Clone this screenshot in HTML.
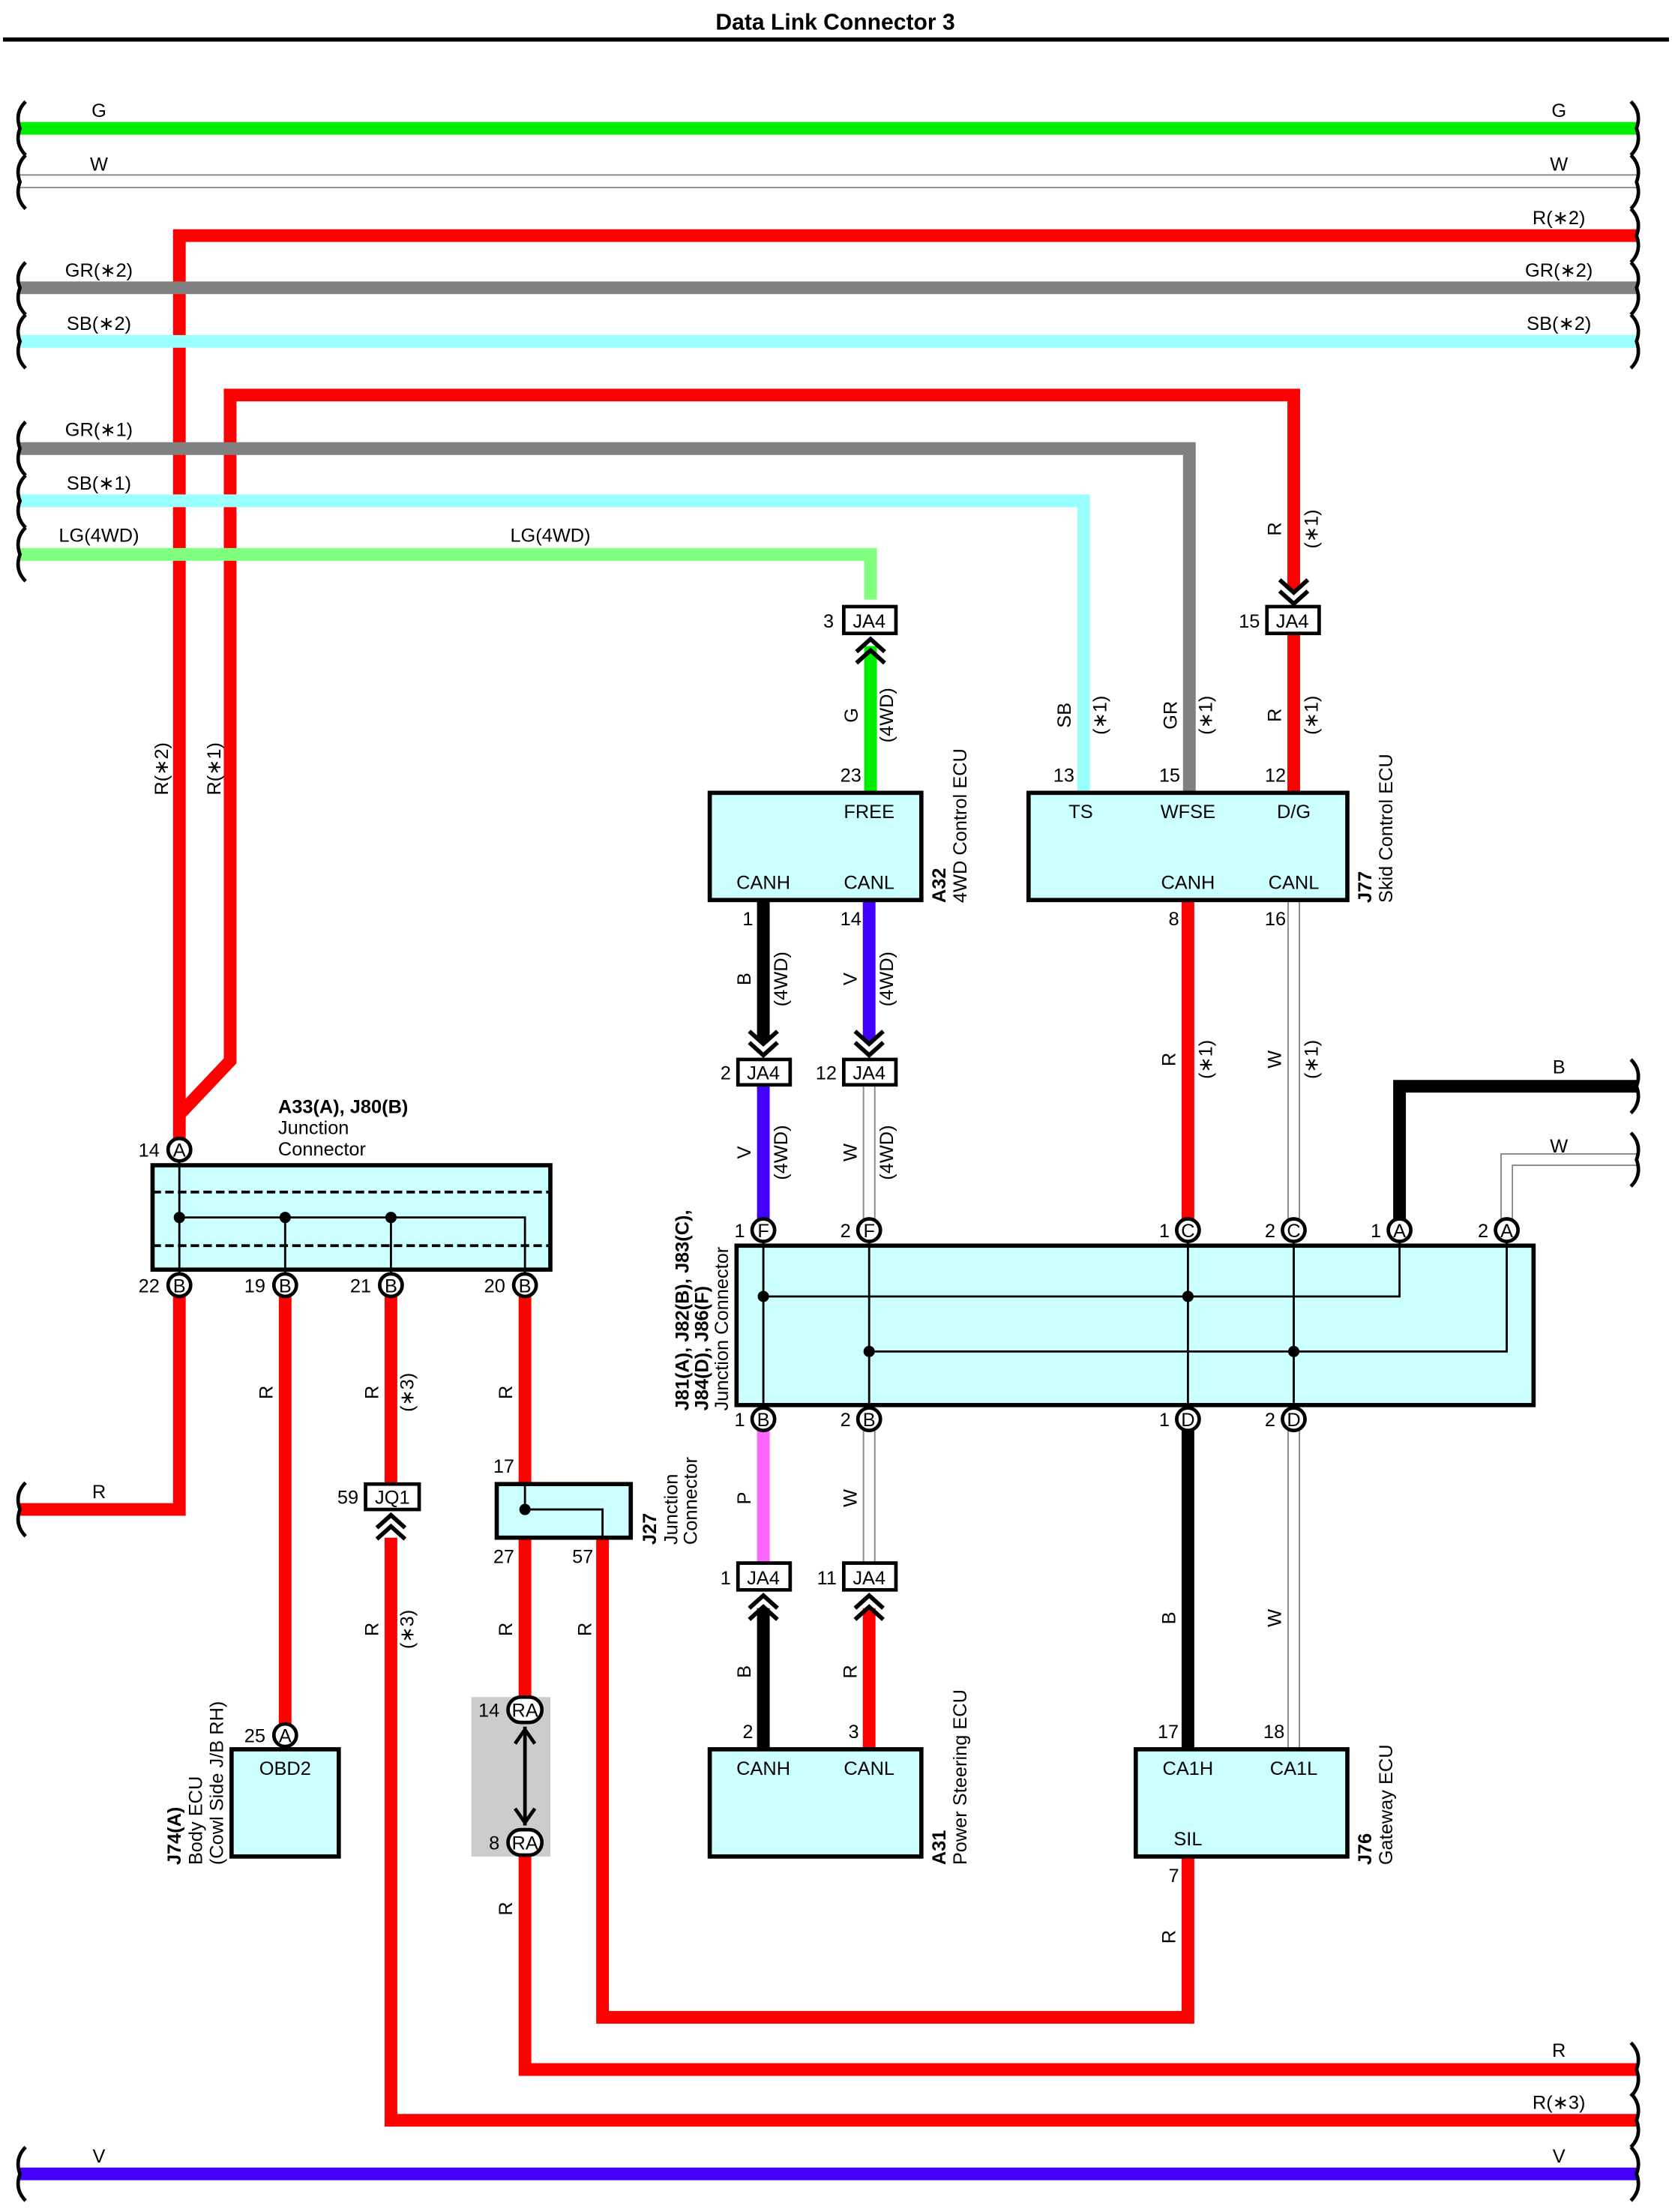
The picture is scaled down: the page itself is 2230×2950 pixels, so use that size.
<!DOCTYPE html>
<html><head><meta charset="utf-8"><style>
html,body{margin:0;padding:0;background:#fff}
svg{display:block}
text{font-family:"Liberation Sans",Arial,sans-serif;font-size:13.5px;fill:#000}
.b{font-weight:bold}
.m{text-anchor:middle}
.e{text-anchor:end}
</style></head><body>
<svg width="2230" height="2950" viewBox="0 0 1185 1568" xmlns="http://www.w3.org/2000/svg">
<rect width="1185" height="1568" fill="#fff"/>
<text x="592" y="21" class="b m" style="font-size:16px">Data Link Connector 3</text>
<line x1="2" y1="28" x2="1183" y2="28" stroke="#000" stroke-width="3"/>

<g fill="none" stroke-linejoin="miter" stroke-linecap="butt">
<!-- top wires -->
<line x1="14" y1="91" x2="1160" y2="91" stroke="#00ee00" stroke-width="9"/>
<line x1="14" y1="124" x2="1160" y2="124" stroke="#888" stroke-width="1"/>
<line x1="14" y1="133" x2="1160" y2="133" stroke="#888" stroke-width="1"/>
<polyline points="127,815 127,167 1160,167" stroke="#ff0000" stroke-width="9"/>
<line x1="14" y1="204" x2="1160" y2="204" stroke="#808080" stroke-width="9"/>
<line x1="14" y1="242" x2="1160" y2="242" stroke="#99ffff" stroke-width="9"/>
<polyline points="127,790 163,752 163,280 917,280 917,418" stroke="#ff0000" stroke-width="9"/>
<polyline points="14,318 843,318 843,562" stroke="#808080" stroke-width="9"/>
<polyline points="14,355 768,355 768,562" stroke="#99ffff" stroke-width="9"/>
<polyline points="14,393 617,393 617,425" stroke="#80ff80" stroke-width="9"/>
<!-- A32/J77 area -->
<line x1="617" y1="458" x2="617" y2="562" stroke="#00ee00" stroke-width="9"/>
<line x1="917" y1="449" x2="917" y2="562" stroke="#ff0000" stroke-width="9"/>
<line x1="541" y1="638" x2="541" y2="738" stroke="#000" stroke-width="9"/>
<line x1="616" y1="638" x2="616" y2="738" stroke="#4400ff" stroke-width="9"/>
<line x1="541" y1="769" x2="541" y2="864" stroke="#4400ff" stroke-width="9"/>
<line x1="612" y1="769" x2="612" y2="864" stroke="#888" stroke-width="1"/>
<line x1="620" y1="769" x2="620" y2="864" stroke="#888" stroke-width="1"/>
<line x1="842" y1="638" x2="842" y2="864" stroke="#ff0000" stroke-width="9"/>
<line x1="913" y1="638" x2="913" y2="864" stroke="#888" stroke-width="1"/>
<line x1="921" y1="638" x2="921" y2="864" stroke="#888" stroke-width="1"/>
<polyline points="992,864 992,770 1160,770" stroke="#000" stroke-width="9"/>
<polyline points="1064,864 1064,818 1160,818" stroke="#888" stroke-width="1"/>
<polyline points="1072,864 1072,826 1160,826" stroke="#888" stroke-width="1"/>
<!-- below junction -->
<line x1="541" y1="1014" x2="541" y2="1108" stroke="#ff66ff" stroke-width="9"/>
<line x1="612" y1="1014" x2="612" y2="1108" stroke="#888" stroke-width="1"/>
<line x1="620" y1="1014" x2="620" y2="1108" stroke="#888" stroke-width="1"/>
<line x1="541" y1="1140" x2="541" y2="1240" stroke="#000" stroke-width="9"/>
<line x1="616" y1="1140" x2="616" y2="1240" stroke="#ff0000" stroke-width="9"/>
<line x1="842" y1="1014" x2="842" y2="1240" stroke="#000" stroke-width="9"/>
<line x1="913" y1="1014" x2="913" y2="1240" stroke="#888" stroke-width="1"/>
<line x1="921" y1="1014" x2="921" y2="1240" stroke="#888" stroke-width="1"/>
<polyline points="842,1316 842,1430 427,1430 427,1090" stroke="#ff0000" stroke-width="9"/>
<!-- left section -->
<polyline points="127,919 127,1070 14,1070" stroke="#ff0000" stroke-width="9"/>
<line x1="202" y1="919" x2="202" y2="1222" stroke="#ff0000" stroke-width="9"/>
<line x1="277" y1="919" x2="277" y2="1052" stroke="#ff0000" stroke-width="9"/>
<polyline points="277,1090 277,1503 1160,1503" stroke="#ff0000" stroke-width="9"/>
<line x1="372" y1="919" x2="372" y2="1052" stroke="#ff0000" stroke-width="9"/>
<line x1="372" y1="1090" x2="372" y2="1205" stroke="#ff0000" stroke-width="9"/>
<polyline points="372,1314 372,1467 1160,1467" stroke="#ff0000" stroke-width="9"/>
<line x1="14" y1="1541" x2="1160" y2="1541" stroke="#4400ff" stroke-width="9"/>
</g>

<!-- end brackets -->
<g fill="none" stroke="#000" stroke-width="2.5">
<path d="M18,72 Q10,80 14,91 Q10,102 18,110"/><path d="M1156,72 Q1164,80 1160,91 Q1164,102 1156,110"/>
<path d="M18,110 Q10,118 14,129 Q10,140 18,148"/><path d="M1156,110 Q1164,118 1160,129 Q1164,140 1156,148"/>
<path d="M1156,148 Q1164,156 1160,167 Q1164,178 1156,186"/>
<path d="M18,186 Q10,194 14,204 Q10,215 18,223"/><path d="M1156,186 Q1164,194 1160,204 Q1164,215 1156,223"/>
<path d="M18,223 Q10,231 14,242 Q10,253 18,261"/><path d="M1156,223 Q1164,231 1160,242 Q1164,253 1156,261"/>
<path d="M18,299 Q10,307 14,318 Q10,329 18,337"/>
<path d="M18,337 Q10,345 14,355 Q10,366 18,374"/>
<path d="M18,374 Q10,382 14,393 Q10,404 18,412"/>
<path d="M1156,751 Q1164,759 1160,770 Q1164,781 1156,789"/>
<path d="M1156,803 Q1164,811 1160,822 Q1164,833 1156,841"/>
<path d="M18,1051 Q10,1059 14,1070 Q10,1081 18,1089"/>
<path d="M1156,1448 Q1164,1456 1160,1467 Q1164,1478 1156,1486"/>
<path d="M1156,1484 Q1164,1492 1160,1503 Q1164,1514 1156,1522"/>
<path d="M18,1522 Q10,1530 14,1541 Q10,1552 18,1560"/><path d="M1156,1522 Q1164,1530 1160,1541 Q1164,1552 1156,1560"/>
</g>

<!-- wire labels horizontal -->
<text x="70" y="83" class="m">G</text><text x="1105" y="83" class="m">G</text>
<text x="70" y="121" class="m">W</text><text x="1105" y="121" class="m">W</text>
<text x="1105" y="159" class="m">R(∗2)</text>
<text x="70" y="196" class="m">GR(∗2)</text><text x="1105" y="196" class="m">GR(∗2)</text>
<text x="70" y="234" class="m">SB(∗2)</text><text x="1105" y="234" class="m">SB(∗2)</text>
<text x="70" y="309" class="m">GR(∗1)</text>
<text x="70" y="347" class="m">SB(∗1)</text>
<text x="70" y="384" class="m">LG(4WD)</text><text x="390" y="384" class="m">LG(4WD)</text>
<text x="1105" y="761" class="m">B</text>
<text x="1105" y="817" class="m">W</text>
<text x="70" y="1062" class="m">R</text>
<text x="1105" y="1458" class="m">R</text>
<text x="1105" y="1495" class="m">R(∗3)</text>
<text x="70" y="1533" class="m">V</text><text x="1105" y="1533" class="m">V</text>

<!-- rotated wire labels -->
<g>
<text transform="translate(119,545) rotate(-90)" class="m">R(∗2)</text>
<text transform="translate(156,545) rotate(-90)" class="m">R(∗1)</text>
<text transform="translate(908,375) rotate(-90)" class="m">R</text>
<text transform="translate(934,375) rotate(-90)" class="m">(∗1)</text>
<text transform="translate(608,507) rotate(-90)" class="m">G</text>
<text transform="translate(633,507) rotate(-90)" class="m">(4WD)</text>
<text transform="translate(759,507) rotate(-90)" class="m">SB</text>
<text transform="translate(784,507) rotate(-90)" class="m">(∗1)</text>
<text transform="translate(834,507) rotate(-90)" class="m">GR</text>
<text transform="translate(859,507) rotate(-90)" class="m">(∗1)</text>
<text transform="translate(908,507) rotate(-90)" class="m">R</text>
<text transform="translate(934,507) rotate(-90)" class="m">(∗1)</text>
<text transform="translate(532,694) rotate(-90)" class="m">B</text>
<text transform="translate(558,694) rotate(-90)" class="m">(4WD)</text>
<text transform="translate(607,694) rotate(-90)" class="m">V</text>
<text transform="translate(633,694) rotate(-90)" class="m">(4WD)</text>
<text transform="translate(833,751) rotate(-90)" class="m">R</text>
<text transform="translate(859,751) rotate(-90)" class="m">(∗1)</text>
<text transform="translate(908,751) rotate(-90)" class="m">W</text>
<text transform="translate(934,751) rotate(-90)" class="m">(∗1)</text>
<text transform="translate(532,817) rotate(-90)" class="m">V</text>
<text transform="translate(558,817) rotate(-90)" class="m">(4WD)</text>
<text transform="translate(607,817) rotate(-90)" class="m">W</text>
<text transform="translate(633,817) rotate(-90)" class="m">(4WD)</text>
<text transform="translate(532,1062) rotate(-90)" class="m">P</text>
<text transform="translate(607,1062) rotate(-90)" class="m">W</text>
<text transform="translate(532,1185) rotate(-90)" class="m">B</text>
<text transform="translate(607,1185) rotate(-90)" class="m">R</text>
<text transform="translate(833,1147) rotate(-90)" class="m">B</text>
<text transform="translate(908,1147) rotate(-90)" class="m">W</text>
<text transform="translate(833,1373) rotate(-90)" class="m">R</text>
<text transform="translate(193,987) rotate(-90)" class="m">R</text>
<text transform="translate(268,987) rotate(-90)" class="m">R</text>
<text transform="translate(293,987) rotate(-90)" class="m">(∗3)</text>
<text transform="translate(363,987) rotate(-90)" class="m">R</text>
<text transform="translate(268,1155) rotate(-90)" class="m">R</text>
<text transform="translate(293,1155) rotate(-90)" class="m">(∗3)</text>
<text transform="translate(363,1155) rotate(-90)" class="m">R</text>
<text transform="translate(419,1155) rotate(-90)" class="m">R</text>
<text transform="translate(363,1353) rotate(-90)" class="m">R</text>
</g>

<!-- JA4 / JQ1 boxes -->
<g stroke="#000" stroke-width="2.5" fill="#fff">
<rect x="598" y="430" width="37" height="19"/>
<rect x="898" y="430" width="37" height="19"/>
<rect x="523" y="751" width="37" height="18"/>
<rect x="598" y="751" width="37" height="18"/>
<rect x="523" y="1108" width="37" height="19"/>
<rect x="598" y="1108" width="37" height="19"/>
<rect x="259" y="1052" width="38" height="18"/>
</g>
<g>
<text x="616" y="445" class="m">JA4</text><text x="591" y="445" class="e">3</text>
<text x="916" y="445" class="m">JA4</text><text x="893" y="445" class="e">15</text>
<text x="541" y="765" class="m">JA4</text><text x="518" y="765" class="e">2</text>
<text x="616" y="765" class="m">JA4</text><text x="593" y="765" class="e">12</text>
<text x="541" y="1123" class="m">JA4</text><text x="518" y="1123" class="e">1</text>
<text x="616" y="1123" class="m">JA4</text><text x="593" y="1123" class="e">11</text>
<text x="278" y="1066" class="m">JQ1</text><text x="254" y="1066" class="e">59</text>
</g>
<!-- chevrons -->
<g fill="none" stroke="#000" stroke-width="3">
<path d="M607,462 L617,453 L627,462 M607,470 L617,461 L627,470"/>
<path d="M907,411 L917,420 L927,411 M907,419 L917,428 L927,419"/>
<path d="M531,731 L541,740 L551,731 M531,739 L541,748 L551,739"/>
<path d="M606,731 L616,740 L626,731 M606,739 L616,748 L626,739"/>
<path d="M531,1140 L541,1131 L551,1140 M531,1148 L541,1139 L551,1148"/>
<path d="M606,1140 L616,1131 L626,1140 M606,1148 L616,1139 L626,1148"/>
<path d="M267,1083 L277,1074 L287,1083 M267,1091 L277,1082 L287,1091"/>
</g>

<!-- ECU boxes -->
<g stroke="#000" stroke-width="3" fill="#ccffff">
<rect x="503" y="562" width="150" height="76"/>
<rect x="729" y="562" width="226" height="76"/>
<rect x="522" y="883" width="565" height="113"/>
<rect x="108" y="826" width="282" height="74"/>
<rect x="503" y="1240" width="150" height="76"/>
<rect x="805" y="1240" width="150" height="76"/>
<rect x="164" y="1240" width="76" height="76"/>
<rect x="352" y="1052" width="95" height="38"/>
</g>
<rect x="334" y="1203" width="56" height="113" fill="#cccccc"/>
<text x="616" y="580" class="m">FREE</text>
<text x="541" y="630" class="m">CANH</text><text x="616" y="630" class="m">CANL</text>
<text x="603" y="554" class="m">23</text><text x="530" y="656" class="m">1</text><text x="603" y="656" class="m">14</text>
<text x="766" y="580" class="m">TS</text><text x="842" y="580" class="m">WFSE</text><text x="917" y="580" class="m">D/G</text>
<text x="842" y="630" class="m">CANH</text><text x="917" y="630" class="m">CANL</text>
<text x="754" y="554" class="m">13</text><text x="829" y="554" class="m">15</text><text x="904" y="554" class="m">12</text>
<text x="832" y="656" class="m">8</text><text x="904" y="656" class="m">16</text>
<text x="541" y="1258" class="m">CANH</text><text x="616" y="1258" class="m">CANL</text>
<text x="530" y="1232" class="m">2</text><text x="605" y="1232" class="m">3</text>
<text x="842" y="1258" class="m">CA1H</text><text x="917" y="1258" class="m">CA1L</text><text x="842" y="1308" class="m">SIL</text>
<text x="828" y="1232" class="m">17</text><text x="903" y="1232" class="m">18</text><text x="832" y="1334" class="m">7</text>
<text x="202" y="1258" class="m">OBD2</text>
<text x="357" y="1044" class="m">17</text><text x="357" y="1108" class="m">27</text><text x="413" y="1108" class="m">57</text>

<!-- internal lines -->
<g stroke="#000" stroke-width="1.5" fill="none">
<line x1="541" y1="880" x2="541" y2="998"/><line x1="616" y1="880" x2="616" y2="998"/>
<line x1="842" y1="880" x2="842" y2="998"/><line x1="917" y1="880" x2="917" y2="998"/>
<polyline points="541,919 992,919 992,880"/>
<polyline points="616,958 1068,958 1068,880"/>
<line x1="108" y1="845" x2="390" y2="845" stroke-dasharray="6,3" stroke-width="2"/>
<line x1="108" y1="883" x2="390" y2="883" stroke-dasharray="6,3" stroke-width="2"/>
<line x1="127" y1="823" x2="127" y2="903"/>
<polyline points="127,863 372,863 372,903"/>
<line x1="202" y1="863" x2="202" y2="903"/><line x1="277" y1="863" x2="277" y2="903"/>
<polyline points="372,1052 372,1070 427,1070 427,1090"/>
</g>
<g fill="#000">
<circle cx="541" cy="919" r="4"/><circle cx="842" cy="919" r="4"/>
<circle cx="616" cy="958" r="4"/><circle cx="917" cy="958" r="4"/>
<circle cx="127" cy="863" r="4"/><circle cx="202" cy="863" r="4"/><circle cx="277" cy="863" r="4"/>
<circle cx="372" cy="1070" r="4"/>
</g>

<!-- pins -->
<g stroke="#000" stroke-width="2.5" fill="#fff">
<circle cx="541" cy="872" r="8"/><circle cx="616" cy="872" r="8"/><circle cx="842" cy="872" r="8"/>
<circle cx="917" cy="872" r="8"/><circle cx="992" cy="872" r="8"/><circle cx="1068" cy="872" r="8"/>
<circle cx="541" cy="1006" r="8"/><circle cx="616" cy="1006" r="8"/><circle cx="842" cy="1006" r="8"/><circle cx="917" cy="1006" r="8"/>
<circle cx="127" cy="815" r="8"/>
<circle cx="127" cy="911" r="8"/><circle cx="202" cy="911" r="8"/><circle cx="277" cy="911" r="8"/><circle cx="372" cy="911" r="8"/>
<circle cx="202" cy="1230" r="8"/>
<rect x="360" y="1203" width="24" height="18" rx="9"/>
<rect x="360" y="1297" width="24" height="18" rx="9"/>
</g>
<g style="font-size:12px">
<text x="541" y="877" class="m">F</text><text x="616" y="877" class="m">F</text><text x="842" y="877" class="m">C</text>
<text x="917" y="877" class="m">C</text><text x="992" y="877" class="m">A</text><text x="1068" y="877" class="m">A</text>
<text x="541" y="1011" class="m">B</text><text x="616" y="1011" class="m">B</text><text x="842" y="1011" class="m">D</text><text x="917" y="1011" class="m">D</text>
<text x="127" y="820" class="m">A</text>
<text x="127" y="916" class="m">B</text><text x="202" y="916" class="m">B</text><text x="277" y="916" class="m">B</text><text x="372" y="916" class="m">B</text>
<text x="202" y="1235" class="m">A</text>
<text x="372" y="1217" class="m">RA</text><text x="372" y="1311" class="m">RA</text>
</g>
<text x="528" y="877" class="e">1</text><text x="603" y="877" class="e">2</text><text x="829" y="877" class="e">1</text>
<text x="904" y="877" class="e">2</text><text x="979" y="877" class="e">1</text><text x="1055" y="877" class="e">2</text>
<text x="528" y="1011" class="e">1</text><text x="603" y="1011" class="e">2</text><text x="829" y="1011" class="e">1</text><text x="904" y="1011" class="e">2</text>
<text x="113" y="820" class="e">14</text>
<text x="113" y="916" class="e">22</text><text x="188" y="916" class="e">19</text><text x="263" y="916" class="e">21</text><text x="358" y="916" class="e">20</text>
<text x="188" y="1235" class="e">25</text>
<text x="354" y="1217" class="e">14</text><text x="354" y="1311" class="e">8</text>
<!-- RA arrow -->
<g stroke="#000" stroke-width="2.5" fill="none">
<line x1="372" y1="1224" x2="372" y2="1294"/>
<path d="M365,1236 L372,1226 L379,1236 M365,1282 L372,1292 L379,1282"/>
</g>

<!-- component labels -->
<text x="197" y="789" class="b">A33(A), J80(B)</text>
<text x="197" y="804">Junction</text>
<text x="197" y="819">Connector</text>
<text transform="translate(670,640) rotate(-90)" class="b">A32</text>
<text transform="translate(685,640) rotate(-90)">4WD Control ECU</text>
<text transform="translate(972,640) rotate(-90)" class="b">J77</text>
<text transform="translate(987,640) rotate(-90)">Skid Control ECU</text>
<text transform="translate(488,1000) rotate(-90)" class="b">J81(A), J82(B), J83(C),</text>
<text transform="translate(502,1000) rotate(-90)" class="b">J84(D), J86(F)</text>
<text transform="translate(516,1000) rotate(-90)">Junction Connector</text>
<text transform="translate(465,1095) rotate(-90)" class="b">J27</text>
<text transform="translate(480,1095) rotate(-90)">Junction</text>
<text transform="translate(494,1095) rotate(-90)">Connector</text>
<text transform="translate(670,1322) rotate(-90)" class="b">A31</text>
<text transform="translate(685,1322) rotate(-90)">Power Steering ECU</text>
<text transform="translate(972,1322) rotate(-90)" class="b">J76</text>
<text transform="translate(987,1322) rotate(-90)">Gateway ECU</text>
<text transform="translate(128,1322) rotate(-90)" class="b">J74(A)</text>
<text transform="translate(143,1322) rotate(-90)">Body ECU</text>
<text transform="translate(158,1322) rotate(-90)">(Cowl Side J/B RH)</text>
</svg>
</body></html>
